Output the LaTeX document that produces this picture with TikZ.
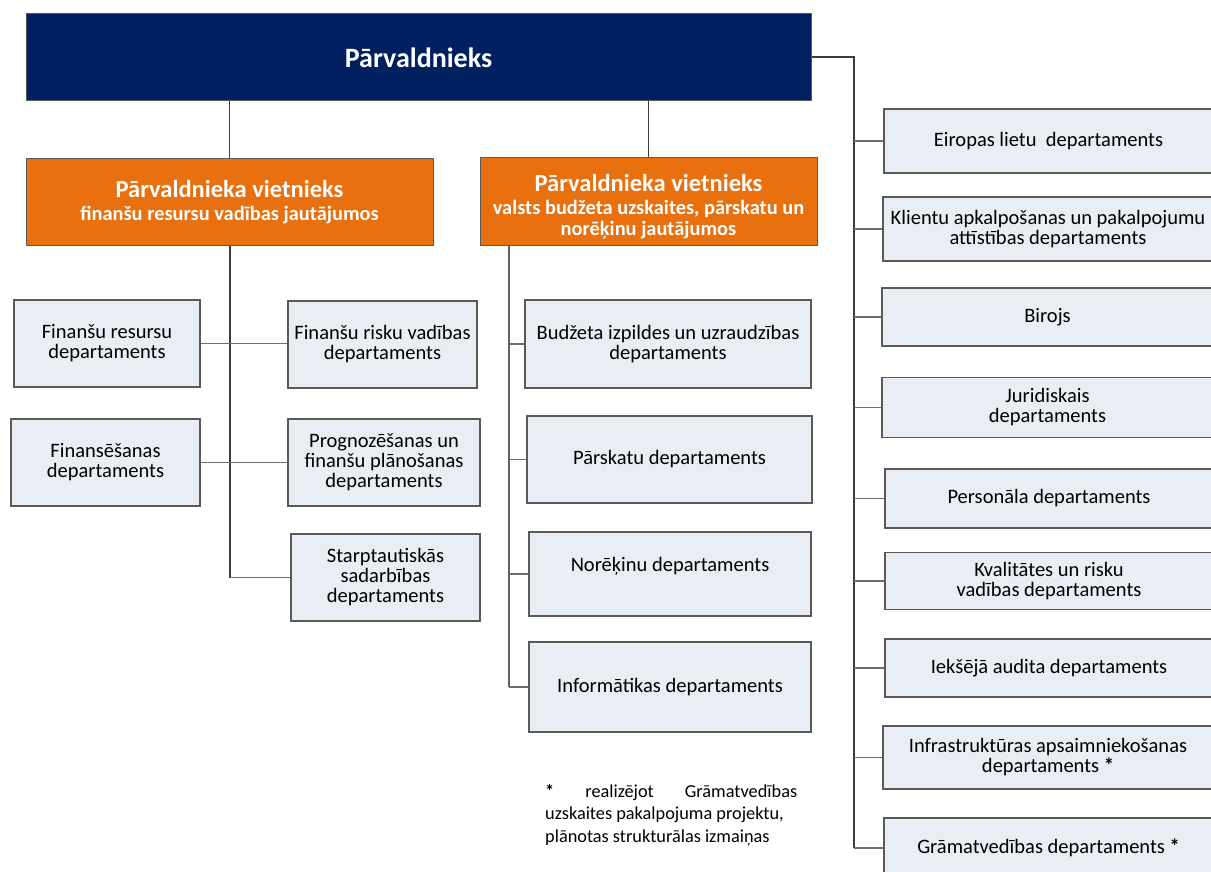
\documentclass[tikz,border=0pt]{standalone}
\usepackage{fontspec}
\setmainfont{Carlito}
\definecolor{navy}{HTML}{002060}
\definecolor{orng}{HTML}{E8700F}
\definecolor{boxfill}{HTML}{E9EDF4}
\definecolor{boxline}{HTML}{5A5A5A}
\definecolor{trunkc}{HTML}{3C3C3C}
\definecolor{branchc}{HTML}{6E6E6E}
\tikzset{
  dept/.style={draw=boxline, line width=1.1pt, fill=boxfill, align=center, inner sep=2pt,
    font=\fontsize{20.5}{20}\selectfont},
  rdept/.style={dept},
  chief/.style={draw=boxline, line width=1pt, fill=navy, text=white, align=center,
    font=\fontsize{28}{30}\bfseries\selectfont},
  deputy/.style={draw=boxline, line width=1pt, fill=orng, text=white, align=center,
    font=\fontsize{20.4}{20.5}\bfseries\selectfont},
  deputytext/.style={text=white, align=center, inner sep=0pt,
    font=\fontsize{20.4}{20.5}\bfseries\selectfont},
  trunk/.style={draw=trunkc, line width=2pt},
  mtrunk/.style={draw=trunkc!80, line width=1.6pt},
  branch/.style={draw=branchc, line width=1.1pt},
  link/.style={draw=trunkc, line width=1.1pt},
  note/.style={align=left, inner sep=0pt, font=\fontsize{18.3}{22.5}\selectfont}
}
\begin{document}
\begin{tikzpicture}[x=1pt,y=-1pt]
\useasboundingbox (0,0) rectangle (1211,872);
% top
\node[chief, minimum width=785, minimum height=87] (top) at (418.5,57.5) {Pārvaldnieks};
% deputies
\node[deputy, minimum width=407, minimum height=87] (o1) at (229.5,202)
 {\fontsize{24.5}{24}\selectfont Pārvaldnieka vietnieks\\[3pt]
  finanšu resursu vadības jautājumos};
\node[deputy, minimum width=337, minimum height=87] (o2) at (648.5,201.5) {};
\node[deputytext, yshift=-5pt] (o2t) at (o2.center)
 {\fontsize{24.5}{24}\selectfont Pārvaldnieka vietnieks\\[3pt]
  valsts budžeta uzskaites, pārskatu un\\ norēķinu jautājumos};
% left group
\node[dept, minimum width=186, minimum height=87] (fr) at (107,343.5) {Finanšu resursu\\departaments};
\node[dept, minimum width=189, minimum height=87] (frv) at (382.5,344.5) {Finanšu risku vadības\\departaments};
\node[dept, minimum width=189, minimum height=87] (fin) at (105.5,462.5) {Finansēšanas\\departaments};
\node[dept, minimum width=192, minimum height=87] (prog) at (384,462.5) {Prognozēšanas un\\finanšu plānošanas\\departaments};
\node[dept, minimum width=189, minimum height=87] (starp) at (385.5,577.5) {Starptautiskās\\sadarbības\\departaments};
% middle group
\node[dept, minimum width=286, minimum height=88] (budz) at (668,344) {Budžeta izpildes un uzraudzības\\departaments};
\node[dept, minimum width=285, minimum height=87] (pars) at (669.5,459.5) {Pārskatu departaments};
\node[dept, minimum width=282, minimum height=84] (nor) at (670,574) {\raisebox{20pt}{Norēķinu departaments}};
\node[dept, minimum width=282, minimum height=90] (inf) at (670,687) {Informātikas departaments};
% right group
\node[rdept, minimum width=329, minimum height=64] (eir) at (1048.5,141) {Eiropas lietu\ \ departaments};
\node[rdept, minimum width=330, minimum height=64] (kli) at (1048,229) {Klientu apkalpošanas un pakalpojumu\\attīstības departaments};
\node[rdept, minimum width=331, minimum height=58] (bir) at (1047.5,317) {Birojs};
\node[rdept, minimum width=331, minimum height=60] (jur) at (1047.5,407.5) {Juridiskais\\departaments};
\node[rdept, minimum width=328, minimum height=59] (pers) at (1049,498.5) {Personāla departaments};
\node[rdept, minimum width=328, minimum height=57] (kval) at (1049,581) {Kvalitātes un risku\\vadības departaments};
\node[rdept, minimum width=328, minimum height=58] (iek) at (1049,668) {Iekšējā audita departaments};
\node[rdept, minimum width=330, minimum height=63] (infra) at (1048,757.5) {Infrastruktūras apsaimniekošanas\\departaments \textbf{*}};
\node[rdept, minimum width=329, minimum height=60] (gram) at (1048.5,848) {Grāmatvedības departaments \textbf{*}};
% footnote
\node[note, anchor=north west] (fn) at (545,784)
 {\makebox[252pt][s]{\textbf{*}\hfill realizējot\hfill Grāmatvedības}\\
  uzskaites pakalpojuma projektu,\\
  plānotas strukturālas izmaiņas};
% connectors top
\draw[link] (o1.north) -- (o1.north |- top.south);
\draw[link] (o2.north) -- (o2.north |- top.south);
% left trunk
\draw[trunk] (o1.south) -- (o1.south |- starp.west);
\draw[branch] (o1.south |- starp.west) -- (starp.west);
\draw[branch] (fr.east) -- (fr.east -| frv.west);
\draw[branch] (fin.east) -- (fin.east -| prog.west);
% middle trunk
\coordinate (m0) at (509,245);
\draw[mtrunk] (m0) -- (m0 |- inf.west);
\foreach \n in {budz,pars,nor,inf} \draw[branch] (m0 |- \n.west) -- (\n.west);
% right trunk
\coordinate (r0) at (854,57.5);
\draw[trunk] (top.east) -- (r0) -- (r0 |- gram.west);
\foreach \n in {eir,kli,bir,jur,pers,kval,iek,infra,gram} \draw[branch] (r0 |- \n.west) -- (\n.west);
\end{tikzpicture}
\end{document}
